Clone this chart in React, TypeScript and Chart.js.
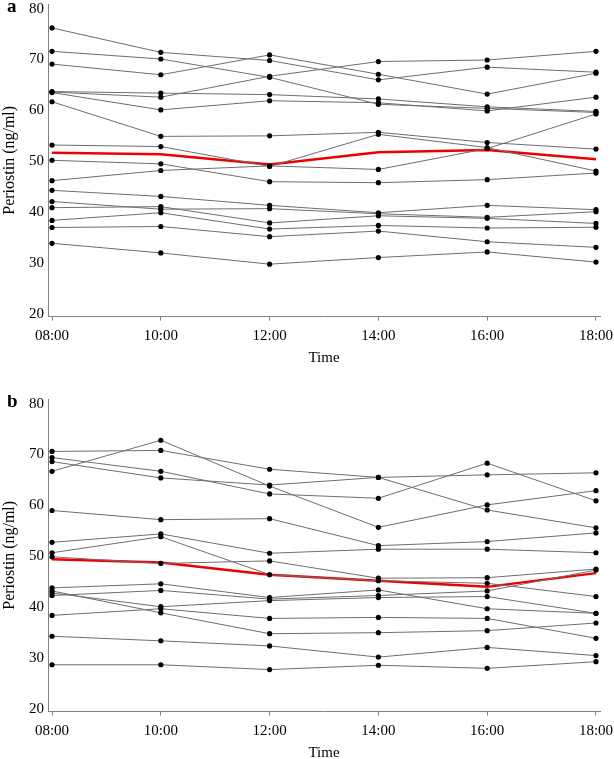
import React, { useEffect, useRef } from "react";
import { Chart, registerables } from "chart.js";
Chart.register(...registerables);

const timeLabels = ["08:00", "10:00", "12:00", "14:00", "16:00", "18:00"];
const yTickValues = [20, 30, 40, 50, 60, 70, 80];
const yTitle = "Periostin (ng/ml)";
const xTitle = "Time";

// Panel a – individual subjects
const a01 = [76.2, 71.4, 69.8, 66.0, 68.5, 67.5];
const a02 = [71.6, 70.1, 66.5, 61.2, 60.4, 59.6];
const a03 = [69.1, 67.0, 70.9, 67.1, 63.2, 67.3];
const a04 = [63.7, 63.4, 63.1, 62.25, 60.7, 59.8];
const a05 = [63.6, 62.6, 66.7, 69.6, 69.9, 71.6];
const a06 = [63.5, 60.1, 61.9, 61.5, 59.9, 62.6];
const a07 = [61.7, 54.9, 55.0, 55.7, 53.7, 52.4];
const a08 = [53.2, 52.9, 49.0, 55.3, 52.7, 48.1];
const a09 = [50.2, 49.5, 46.0, 45.8, 46.4, 47.7];
const a10 = [46.2, 48.2, 49.1, 48.4, 52.5, 59.3];
const a11 = [44.3, 43.1, 41.35, 39.9, 41.35, 40.5];
const a12 = [42.1, 40.6, 40.7, 39.7, 39.0, 40.1];
const a13 = [40.9, 41.1, 37.9, 39.3, 38.8, 37.8];
const a14 = [38.4, 39.9, 36.7, 37.4, 36.9, 37.05];
const a15 = [37.0, 37.2, 35.2, 36.3, 34.2, 33.1];
const a16 = [33.9, 32.0, 29.8, 31.1, 32.2, 30.2];
const aMean = [51.7, 51.4, 49.4, 51.8, 52.2, 50.4];

// Panel b – individual subjects
const b01 = [70.6, 70.8, 67.1, 65.5, 66.0, 66.4];
const b02 = [66.7, 72.8, 63.8, 55.7, 60.1, 62.9];
const b03 = [69.4, 66.7, 62.25, 61.4, 68.3, 60.9];
const b04 = [68.6, 65.4, 64.0, 65.5, 59.1, 55.6];
const b05 = [59.0, 57.2, 57.4, 52.1, 52.9, 54.6];
const b06 = [52.75, 54.4, 50.6, 51.4, 51.4, 50.7];
const b07 = [50.7, 53.85, 46.4, 45.2, 44.7, 42.1];
const b08 = [49.9, 48.6, 49.1, 45.7, 45.8, 47.5];
const b09 = [43.8, 44.6, 41.9, 43.4, 39.7, 38.8];
const b10 = [42.3, 43.3, 41.6, 42.3, 43.2, 47.3];
const b11 = [42.8, 40.1, 41.3, 41.9, 42.1, 38.8];
const b12 = [38.4, 39.7, 37.8, 38.0, 37.8, 33.9];
const b13 = [43.2, 38.9, 34.8, 35.0, 35.4, 36.9];
const b14 = [34.3, 33.4, 32.4, 30.2, 32.1, 30.5];
const b15 = [28.7, 28.7, 27.75, 28.6, 28.0, 29.3];
const bMean = [49.4, 48.8, 46.4, 45.2, 44.0, 46.7];

const panelA = [a01, a02, a03, a04, a05, a06, a07, a08, a09, a10, a11, a12, a13, a14, a15, a16];
const panelB = [b01, b02, b03, b04, b05, b06, b07, b08, b09, b10, b11, b12, b13, b14, b15];

const FONT = "'Liberation Serif', 'Times New Roman', serif";
const W = 614;
const H = 372;

function letterPlugin(letter: string) {
  return {
    id: "panelLetter",
    afterDraw(chart: any) {
      const ctx = chart.ctx;
      ctx.save();
      ctx.font = `bold 19px ${FONT}`;
      ctx.fillStyle = "#000";
      ctx.textAlign = "left";
      ctx.textBaseline = "middle";
      ctx.fillText(letter, 7, 7);
      ctx.restore();
    },
  };
}

function makeConfig(gray: number[][], mean: number[], letter: string, padTop: number): any {
  const toPts = (arr: number[]) => arr.map((v, i) => ({ x: i, y: v }));
  const datasets: any[] = gray.map((s) => ({
    data: toPts(s),
    borderColor: "#6e6e6e",
    borderWidth: 1,
    pointRadius: 2.6,
    pointBackgroundColor: "#000",
    pointBorderWidth: 0,
    tension: 0,
    order: 1,
  }));
  datasets.push({
    data: toPts(mean),
    borderColor: "#ee0000",
    borderWidth: 2.5,
    pointRadius: 0,
    tension: 0,
    order: 2,
  });
  return {
    type: "line",
    data: { datasets },
    plugins: [letterPlugin(letter)],
    options: {
      animation: false,
      responsive: false,
      devicePixelRatio: 1,
      layout: { padding: { top: padTop, right: 14, left: 0, bottom: 0 } },
      plugins: { legend: { display: false }, tooltip: { enabled: false } },
      scales: {
        x: {
          type: "linear",
          min: -0.037,
          max: 5.037,
          afterFit: (s: any) => {
            s.height = 55.4;
            s.paddingLeft = 0;
            s.paddingRight = 0;
          },
          afterBuildTicks: (s: any) => { s.ticks = timeLabels.map((_, i) => ({ value: i })); },
          grid: { display: true, drawOnChartArea: false, drawTicks: true, tickLength: 4, color: "#808080" },
          border: { display: true, color: "#808080", width: 1 },
          ticks: {
            color: "#000",
            font: { family: FONT, size: 15 },
            padding: 6,
            maxRotation: 0,
            autoSkip: false,
            callback: (v: any) => timeLabels[Math.round(v)] ?? "",
          },
          title: { display: true, text: xTitle, color: "#000", font: { family: FONT, size: 15 }, padding: { top: 0, bottom: 5 } },
        },
        y: {
          type: "linear",
          min: 19.5,
          max: 80.9,
          afterFit: (s: any) => {
            s.width = 48;
            s.paddingTop = 0;
            s.paddingBottom = 0;
          },
          afterBuildTicks: (s: any) => { s.ticks = yTickValues.map((v) => ({ value: v })); },
          grid: { display: true, drawOnChartArea: false, drawTicks: false, color: "#808080" },
          border: { display: true, color: "#808080", width: 1 },
          ticks: { color: "#000", font: { family: FONT, size: 15 }, padding: 4 },
          title: { display: true, text: yTitle, color: "#000", font: { family: FONT, size: 16 }, padding: { top: 0, bottom: 0 } },
        },
      },
    },
  };
}

function Panel({ gray, mean, letter, top, padTop }: { gray: number[][]; mean: number[]; letter: string; top: number; padTop: number }) {
  const ref = useRef<HTMLCanvasElement | null>(null);
  useEffect(() => {
    if (!ref.current) return;
    const chart = new Chart(ref.current, makeConfig(gray, mean, letter, padTop));
    return () => chart.destroy();
  }, [gray, mean, letter, padTop]);
  return (
    <canvas
      ref={ref}
      width={W}
      height={H}
      style={{ position: "absolute", left: 0, top, width: W, height: H }}
    />
  );
}

export default function App() {
  return (
    <div style={{ position: "absolute", left: 0, top: 0, width: W, height: 759, overflow: "hidden", background: "#fff" }}>
      <Panel gray={panelA} mean={aMean} letter="a" top={0} padTop={2.4} />
      <Panel gray={panelB} mean={bMean} letter="b" top={395} padTop={2.1} />
    </div>
  );
}
